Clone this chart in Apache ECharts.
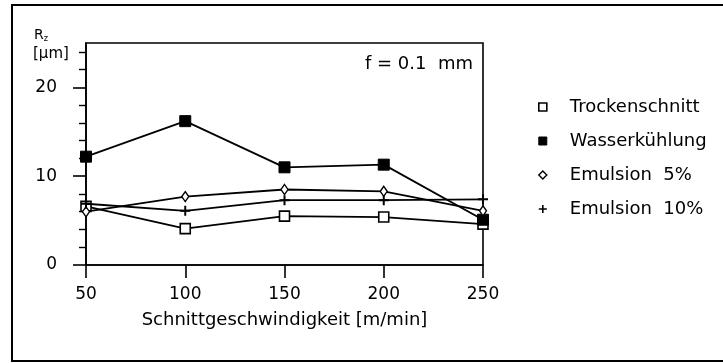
<!DOCTYPE html>
<html>
<head>
<meta charset="utf-8">
<script src="https://cdn.jsdelivr.net/npm/echarts@6/dist/echarts.min.js"></script>
<style>html,body{margin:0;padding:0;background:#fff;}#c{width:723px;height:363px;}</style>
</head>
<body>
<div id="c"></div>
<script>
const speeds = [50, 100, 150, 200, 250];
const trocken = [6.6, 4.1, 5.5, 5.4, 4.6];
const wasser = [12.2, 16.2, 11.0, 11.3, 5.1];
const emulsion5 = [6.0, 7.7, 8.5, 8.3, 6.1];
const emulsion10 = [6.9, 6.1, 7.3, 7.3, 7.4];
const seriesNames = ['Trockenschnitt', 'Wasserkühlung', 'Emulsion  5%', 'Emulsion  10%'];
const xTicks = [50, 100, 150, 200, 250];
const yMajorTicks = [0, 10, 20];
const yMinorTicks = [2, 4, 6, 8, 12, 14, 16, 18, 22, 24];

const FONT = 'DejaVu Sans';
const plusPath = 'path://M3.2,0H4.8V3.2H8V4.8H4.8V8H3.2V4.8H0V3.2H3.2Z';

function pairs(arr) { return speeds.map((s, i) => [s, arr[i]]); }

const markerStyles = [
  { symbol: 'rect', size: 10, itemStyle: { color: '#fff', borderColor: '#000', borderWidth: 1.6 } },
  { symbol: 'rect', size: 11, itemStyle: { color: '#000', borderColor: '#000', borderWidth: 1 } },
  { symbol: 'diamond', size: [7, 10], itemStyle: { color: '#fff', borderColor: '#000', borderWidth: 1.4 } },
  { symbol: plusPath, size: 10, itemStyle: { color: '#000', borderWidth: 0 } }
];
const dataSets = [trocken, wasser, emulsion5, emulsion10];

const chart = echarts.init(document.getElementById('c'));
chart.setOption({
  animation: false,
  backgroundColor: '#fff',
  grid: { left: 86, top: 43, right: 240, bottom: 98, show: true, borderColor: '#000', borderWidth: 1.6 },
  xAxis: {
    type: 'value', min: 50, max: 250, interval: 50,
    name: 'Schnittgeschwindigkeit [m/min]', nameLocation: 'middle', nameGap: 46,
    nameTextStyle: { fontFamily: FONT, fontSize: 18, color: '#000' },
    axisLine: { lineStyle: { color: '#000', width: 1.6 } },
    axisTick: { length: 13, lineStyle: { color: '#000', width: 1.6 } },
    axisLabel: { fontFamily: FONT, fontSize: 17, color: '#000', margin: 21, customValues: xTicks },
    splitLine: { show: false }
  },
  yAxis: [{
    type: 'value', min: 0, max: 25,
    axisLine: { show: true, lineStyle: { color: '#000', width: 1.6 } },
    axisTick: { show: true, length: 13, lineStyle: { color: '#000', width: 1.6 }, customValues: yMajorTicks },
    axisLabel: { fontFamily: FONT, fontSize: 17, color: '#000', margin: 29, customValues: yMajorTicks },
    splitLine: { show: false }
  }, {
    type: 'value', min: 0, max: 25, position: 'left',
    axisLine: { show: false },
    axisTick: { show: true, length: 7, lineStyle: { color: '#000', width: 1.4 }, customValues: yMinorTicks },
    axisLabel: { show: false },
    splitLine: { show: false }
  }],
  legend: {
    orient: 'vertical', left: 533, top: 92, itemWidth: 8, itemHeight: 8, itemGap: 14,
    textStyle: { fontFamily: FONT, fontSize: 18, color: '#000', lineHeight: 20, padding: [0, 0, 0, 18] },
    data: seriesNames.map((n, i) => ({
      name: n,
      icon: markerStyles[i].symbol,
      itemStyle: markerStyles[i].itemStyle
    }))
  },
  graphic: [
    { type: 'rect', shape: { x: 12, y: 5, width: 730, height: 356 }, style: { fill: 'none', stroke: '#000', lineWidth: 2 }, silent: true },
    { type: 'text', left: 34, top: 28, style: { rich: { r: { fontFamily: FONT, fontSize: 14, fill: '#000' }, s: { fontFamily: FONT, fontSize: 8, fill: '#000', verticalAlign: 'bottom', padding: [8, 0, 0, 0] } }, text: '{r|R}{s|z}' } },
    { type: 'text', left: 33, top: 47, style: { text: '[µm]', fontFamily: FONT, fontSize: 15, fill: '#000' } },
    { type: 'text', right: 250, top: 55, style: { text: 'f = 0.1  mm', fontFamily: FONT, fontSize: 18, fill: '#000' } }
  ],
  series: dataSets.map((d, i) => ({
    name: seriesNames[i],
    type: 'line',
    data: pairs(d),
    symbol: markerStyles[i].symbol,
    symbolSize: markerStyles[i].size,
    itemStyle: markerStyles[i].itemStyle,
    lineStyle: { color: '#000', width: 1.8 },
    z: 3 + i
  }))
});
</script>
</body>
</html>
